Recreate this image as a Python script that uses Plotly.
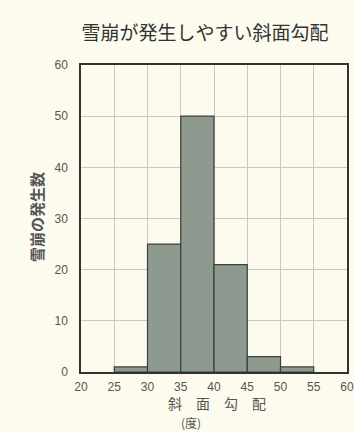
import plotly.graph_objects as go

bin_left = [25, 30, 35, 40, 45, 50]
counts = [1, 25, 50, 21, 3, 1]
x_ticks = [20, 25, 30, 35, 40, 45, 50, 55, 60]
y_ticks = [0, 10, 20, 30, 40, 50, 60]

title = "雪崩が発生しやすい斜面勾配"
y_title = "雪崩の発生数"
x_title = "斜　面　勾　配"
x_unit = "(度)"

font = "Noto Sans CJK JP"
bg = "#fcfbee"

L, R, T, B = 81, 8, 65, 60
W, H = 355, 432
ph = H - T - B
pw = W - L - R

fig = go.Figure()
fig.add_trace(go.Bar(
    x=[b + 2.5 for b in bin_left], y=counts, width=5,
    marker=dict(color="#8e9a90", line=dict(color="#3a403b", width=1.2)),
))
fig.update_layout(
    width=W, height=H, autosize=False,
    paper_bgcolor=bg, plot_bgcolor=bg,
    margin=dict(l=L, r=R, t=T, b=B, autoexpand=False),
    showlegend=False,
    title=dict(text=title, x=205 / W, xanchor="center", y=1 - 33 / H, yanchor="middle",
               font=dict(family=font, size=19, color="#333333")),
    font=dict(family=font, color="#333333"),
)
fig.update_xaxes(range=[20, 60], tickvals=x_ticks, ticks="outside", ticklen=3,
                 tickcolor=bg, showgrid=True,
                 gridcolor="#c8c8c0", gridwidth=1, showline=True, linecolor="#333333",
                 linewidth=1.5, mirror=True, zeroline=False, automargin=False,
                 tickfont=dict(family="Liberation Sans", size=12, color="#555555"))
fig.update_yaxes(range=[0, 60], tickvals=y_ticks, ticks="outside", ticklen=9,
                 tickcolor=bg, showgrid=True,
                 gridcolor="#c8c8c0", gridwidth=1, showline=True, linecolor="#333333",
                 linewidth=1.5, mirror=True, zeroline=False, automargin=False,
                 tickfont=dict(family="Liberation Sans", size=12, color="#555555"))
fig.add_annotation(text="<b>" + y_title + "</b>", x=(36 - L) / pw, xref="paper",
                   y=(H - B - 217) / ph, yref="paper",
                   textangle=-90, showarrow=False, xanchor="center", yanchor="middle",
                   font=dict(family=font, size=15, color="#555555"))
fig.add_annotation(text=x_title, x=(217 - L) / pw, xref="paper", y=(H - B - 403) / ph, yref="paper",
                   showarrow=False, xanchor="center", yanchor="middle",
                   font=dict(family=font, size=14, color="#555555"))
fig.add_annotation(text=x_unit, x=(191 - L) / pw, xref="paper", y=(H - B - 422) / ph, yref="paper",
                   showarrow=False, xanchor="center", yanchor="middle",
                   font=dict(family=font, size=12, color="#555555"))
fig.write_html("out.html", config={"displayModeBar": False},
               post_script="document.body.style.margin='0';document.body.style.overflow='hidden';"
                           "document.body.style.background='%s';" % bg)
